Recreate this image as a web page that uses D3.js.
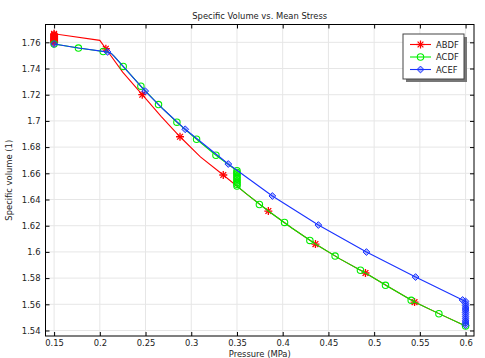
<!DOCTYPE html>
<html>
<head>
<meta charset="utf-8">
<script src="https://cdn.jsdelivr.net/npm/d3@7"></script>
<style>
  body { margin: 0; background: #fff; }
  svg { display: block; }
  text { font-family: "DejaVu Sans", sans-serif; fill: #222; }
</style>
</head>
<body>
<svg id="chart" width="485" height="358"></svg>
<script>
// ---------- data ----------
const title = "Specific Volume vs. Mean Stress";
const xLabel = "Pressure (MPa)";
const yLabel = "Specific volume (1)";
const seriesNames = ["ABDF", "ACDF", "ACEF"];
const seriesColors = ["#ff0000", "#00ee00", "#1a33ff"];
const xTicks = [0.15, 0.2, 0.25, 0.3, 0.35, 0.4, 0.45, 0.5, 0.55, 0.6];
const yTicks = [1.54, 1.56, 1.58, 1.6, 1.62, 1.64, 1.66, 1.68, 1.7, 1.72, 1.74, 1.76];

// ABDF path [p, v]
const abdfLine = [
  [0.15, 1.7600], [0.15, 1.7607], [0.15, 1.7614], [0.15, 1.7622], [0.15, 1.7629],
  [0.15, 1.7636], [0.15, 1.7643], [0.15, 1.7651], [0.15, 1.7658], [0.15, 1.7665],
  [0.2, 1.7615], [0.2066, 1.7551], [0.225, 1.7372], [0.2464, 1.7200], [0.267, 1.7035],
  [0.2877, 1.6879], [0.31, 1.6725], [0.335, 1.6587], [0.36, 1.6445], [0.3843, 1.6312],
  [0.41, 1.6183], [0.4358, 1.6060], [0.463, 1.5945], [0.4905, 1.5839], [0.517, 1.5728],
  [0.5442, 1.5617], [0.572, 1.5525], [0.6, 1.5435]
];
const abdfMarkers = [
  [0.15, 1.7600], [0.15, 1.7607], [0.15, 1.7614], [0.15, 1.7622], [0.15, 1.7629],
  [0.15, 1.7636], [0.15, 1.7643], [0.15, 1.7651], [0.15, 1.7658], [0.15, 1.7665],
  [0.2066, 1.7551], [0.2464, 1.7200], [0.2877, 1.6879], [0.335, 1.6587], [0.3843, 1.6312],
  [0.4358, 1.6060], [0.4905, 1.5839], [0.5442, 1.5617]
];

// ACDF path
const acdfLine = [
  [0.15, 1.7587], [0.1766, 1.7556], [0.2037, 1.7530], [0.2084, 1.7527], [0.2125, 1.7515],
  [0.2155, 1.7495], [0.2256, 1.7416], [0.2449, 1.7265], [0.2642, 1.7125], [0.2843, 1.6990],
  [0.3058, 1.6860], [0.327, 1.6738], [0.35, 1.6620], [0.35, 1.6503], [0.36, 1.6445],
  [0.3843, 1.6312], [0.41, 1.6183], [0.4358, 1.6060], [0.463, 1.5945], [0.4905, 1.5839],
  [0.517, 1.5728], [0.5442, 1.5617], [0.572, 1.5525], [0.6, 1.5435]
];
const acdfMarkers = [
  [0.15, 1.7587], [0.1766, 1.7556], [0.2037, 1.7530], [0.2256, 1.7416], [0.2449, 1.7265],
  [0.2642, 1.7125], [0.2843, 1.6990], [0.3058, 1.6860], [0.327, 1.6738],
  [0.35, 1.6620], [0.35, 1.6607], [0.35, 1.6594], [0.35, 1.6581], [0.35, 1.6568],
  [0.35, 1.6555], [0.35, 1.6542], [0.35, 1.6529], [0.35, 1.6516], [0.35, 1.6503],
  [0.3745, 1.6362], [0.402, 1.6225], [0.4297, 1.6088], [0.4573, 1.5968], [0.485, 1.5860],
  [0.5124, 1.5745], [0.5405, 1.5630], [0.5708, 1.5528], [0.6, 1.5435]
];

// ACEF path
const acefLine = [
  [0.15, 1.7587], [0.1766, 1.7556], [0.2055, 1.7529], [0.2084, 1.7527], [0.2125, 1.7515],
  [0.2155, 1.7495], [0.2496, 1.7228], [0.27, 1.7085], [0.2934, 1.6936], [0.3405, 1.6671],
  [0.3887, 1.6427], [0.439, 1.6205], [0.4916, 1.5999], [0.5453, 1.5808], [0.5967, 1.5633],
  [0.6, 1.5622], [0.6, 1.5440]
];
const acefMarkers = [
  [0.15, 1.7587], [0.2084, 1.7527], [0.2496, 1.7228], [0.2934, 1.6936], [0.3405, 1.6671],
  [0.3887, 1.6427], [0.439, 1.6205], [0.4916, 1.5999], [0.5453, 1.5808], [0.5967, 1.5633],
  [0.6, 1.5622], [0.6, 1.5605], [0.6, 1.5589], [0.6, 1.5572], [0.6, 1.5556], [0.6, 1.5539],
  [0.6, 1.5523], [0.6, 1.5506], [0.6, 1.5490], [0.6, 1.5473], [0.6, 1.5457], [0.6, 1.5440]
];

// ---------- layout ----------
const svg = d3.select("#chart");
const L = 45.5, R = 474, T = 24.5, B = 336;
const x = d3.scaleLinear().domain([0.1406, 0.6092]).range([L, R]);
const y = d3.scaleLinear().domain([1.5358, 1.7736]).range([B, T]);
const fs = 8.4;

// grid
const grid = svg.append("g");
grid.selectAll(".gx").data(xTicks).enter().append("line")
  .attr("x1", d => x(d)).attr("x2", d => x(d)).attr("y1", T).attr("y2", B)
  .attr("stroke", "#e6e6e6").attr("stroke-width", 1);
grid.selectAll(".gy").data(yTicks).enter().append("line")
  .attr("y1", d => y(d)).attr("y2", d => y(d)).attr("x1", L).attr("x2", R)
  .attr("stroke", "#e6e6e6").attr("stroke-width", 1);

// axes (ticks inward)
const fmt = d => String(+d.toFixed(2));
const axB = svg.append("g").attr("transform", `translate(0,${B})`)
  .call(d3.axisBottom(x).tickValues(xTicks).tickFormat(fmt).tickSizeInner(-4).tickSizeOuter(0).tickPadding(4));
const axT = svg.append("g").attr("transform", `translate(0,${T})`)
  .call(d3.axisTop(x).tickValues(xTicks).tickFormat("").tickSizeInner(-4).tickSizeOuter(0));
const axL = svg.append("g").attr("transform", `translate(${L},0)`)
  .call(d3.axisLeft(y).tickValues(yTicks).tickFormat(fmt).tickSizeInner(-4).tickSizeOuter(0).tickPadding(5));
const axR = svg.append("g").attr("transform", `translate(${R},0)`)
  .call(d3.axisRight(y).tickValues(yTicks).tickFormat("").tickSizeInner(-4).tickSizeOuter(0));
[axB, axT, axL, axR].forEach(a => {
  a.select(".domain").remove();
  a.selectAll("line").attr("stroke", "#000");
  a.selectAll("text").style("font-family", "DejaVu Sans").style("font-size", fs + "px").attr("fill", "#222");
});
svg.append("rect").attr("x", L).attr("y", T).attr("width", R - L).attr("height", B - T)
  .attr("fill", "none").attr("stroke", "#000").attr("stroke-width", 1);

// clip
svg.append("clipPath").attr("id", "clip").append("rect")
  .attr("x", L).attr("y", T).attr("width", R - L).attr("height", B - T);
const plot = svg.append("g").attr("clip-path", "url(#clip)");

const line = d3.line().x(d => x(d[0])).y(d => y(d[1]));

function asterisk(g, cx, cy, color) {
  const r = 4;
  const s = r * 0.72;
  [[-r, 0, r, 0], [0, -r, 0, r], [-s, -s, s, s], [-s, s, s, -s]].forEach(a => {
    g.append("line").attr("x1", cx + a[0]).attr("y1", cy + a[1]).attr("x2", cx + a[2]).attr("y2", cy + a[3])
      .attr("stroke", color).attr("stroke-width", 1.3);
  });
}
function circle(g, cx, cy, color) {
  g.append("circle").attr("cx", cx).attr("cy", cy).attr("r", 3.2)
    .attr("fill", "none").attr("stroke", color).attr("stroke-width", 1.1);
}
function diamond(g, cx, cy, color) {
  const r = 3.4;
  g.append("path").attr("d", `M${cx},${cy - r}L${cx + r},${cy}L${cx},${cy + r}L${cx - r},${cy}Z`)
    .attr("fill", "rgba(26,51,255,0.35)").attr("stroke", color).attr("stroke-width", 1);
}
const markerFns = [asterisk, circle, diamond];
const lines = [abdfLine, acdfLine, acefLine];
const markers = [abdfMarkers, acdfMarkers, acefMarkers];

lines.forEach((ln, i) => {
  const g = plot.append("g");
  g.append("path").datum(ln).attr("d", line).attr("fill", "none")
    .attr("stroke", seriesColors[i]).attr("stroke-width", 1.1);
  markers[i].forEach(m => markerFns[i](g, x(m[0]), y(m[1]), seriesColors[i]));
});

// title and labels
svg.append("text").attr("x", (L + R) / 2).attr("y", 19).attr("text-anchor", "middle")
  .style("font-size", fs + "px").text(title);
svg.append("text").attr("x", (L + R) / 2).attr("y", 356.5).attr("text-anchor", "middle")
  .style("font-size", fs + "px").text(xLabel);
svg.append("text").attr("transform", `translate(12,${(T + B) / 2}) rotate(-90)`).attr("text-anchor", "middle")
  .style("font-size", fs + "px").text(yLabel);

// legend
const lx = 403, ly = 34, lw = 61, lh = 45;
svg.append("rect").attr("x", lx + 3).attr("y", ly + 3).attr("width", lw).attr("height", lh).attr("fill", "#777");
svg.append("rect").attr("x", lx).attr("y", ly).attr("width", lw).attr("height", lh)
  .attr("fill", "#fff").attr("stroke", "#444").attr("stroke-width", 1);
seriesNames.forEach((name, i) => {
  const yy = ly + 10.5 + i * 12.5;
  const g = svg.append("g");
  g.append("line").attr("x1", lx + 7).attr("x2", lx + 28).attr("y1", yy).attr("y2", yy)
    .attr("stroke", seriesColors[i]).attr("stroke-width", 1.1);
  markerFns[i](g, lx + 17.5, yy, seriesColors[i]);
  svg.append("text").attr("x", lx + 33).attr("y", yy + 3).style("font-size", fs + "px").text(name);
});
</script>
</body>
</html>
